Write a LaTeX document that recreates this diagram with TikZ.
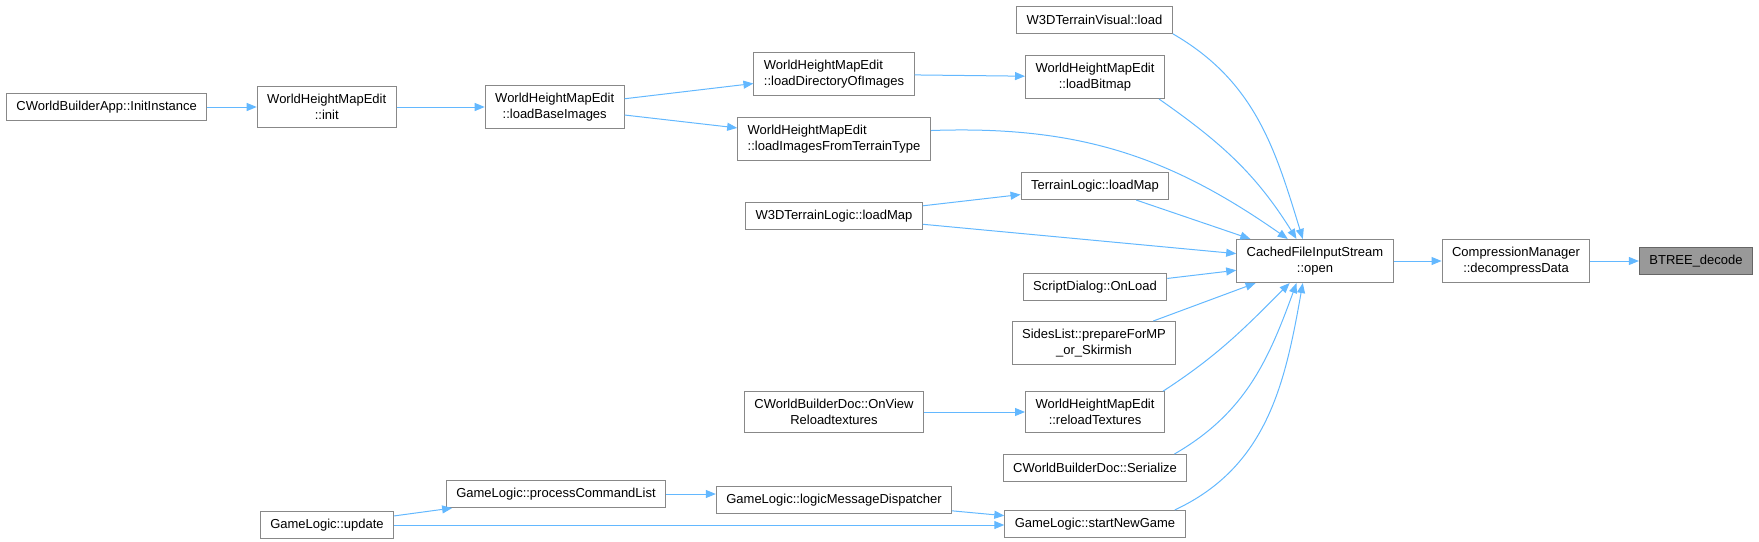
\documentclass[tikz,border=0pt]{standalone}
\usepackage{fontspec}
\setmainfont{Liberation Sans}
\usetikzlibrary{arrows.meta}
\definecolor{callblue}{HTML}{63B8FF}
\definecolor{boxgray}{HTML}{888888}
\definecolor{focusgray}{HTML}{999999}
\definecolor{focusedge}{HTML}{666666}

\begin{document}
\begin{tikzpicture}[x=1pt, y=1pt, >={Triangle[length=10pt,width=8pt]},
        fn/.style={draw=boxgray, line width=1pt, rectangle, fill=white, inner xsep=10pt, inner ysep=7.5pt, minimum height=27pt, font=\fontsize{13}{16}\selectfont, align=center},
        call/.style={->, draw=callblue, line width=1pt}]
        \useasboundingbox (0,0) rectangle (1759,-541);

        \node[fn] (loadbase) at (554.7,-107) {WorldHeightMapEdit\\::loadBaseImages};
        \node[fn, left of=loadbase, node distance=228pt] (init) {WorldHeightMapEdit\\::init};
        \node[fn, left of=init, node distance=220pt] (initinstance) {CWorldBuilderApp::InitInstance};

        \node[fn] (visualload) at (1094.5,-20) {W3DTerrainVisual::load};
        \node[fn, align=left] (loaddir) at (834,-74) {WorldHeightMapEdit\\::loadDirectoryOfImages};
        \node[fn] (loadbitmap) at (1095,-77) {WorldHeightMapEdit\\::loadBitmap};
        \node[fn, align=left] (loadimages) at (834,-139) {WorldHeightMapEdit\\::loadImagesFromTerrainType};
        \node[fn] (terrainmap) at (1095,-186) {TerrainLogic::loadMap};
        \node[fn] (w3dmap) at (834,-216) {W3DTerrainLogic::loadMap};

        \node[fn] (open) at (1315,-261) {CachedFileInputStream\\::open};
        \node[fn, right of=open, node distance=201pt] (decompress) {CompressionManager\\::decompressData};
        \node[fn, fill=focusgray, draw=focusedge, right of=decompress, node distance=180pt] (btree) {BTREE\_decode};

        \node[fn] (scriptload) at (1095,-287) {ScriptDialog::OnLoad};
        \node[fn] (sideslist) at (1094,-343) {SidesList::prepareForMP\\\_or\_Skirmish};
        \node[fn] (reloadtex) at (1095,-412) {WorldHeightMapEdit\\::reloadTextures};
        \node[fn, left of=reloadtex, node distance=261pt] (onview) {CWorldBuilderDoc::OnView\\Reloadtextures};
        \node[fn] (serialize) at (1095,-468) {CWorldBuilderDoc::Serialize};
        \node[fn] (startgame) at (1095,-524) {GameLogic::startNewGame};
        \node[fn] (dispatcher) at (834,-500) {GameLogic::logicMessageDispatcher};
        \node[fn] (processcmd) at (556,-494) {GameLogic::processCommandList};
        \node[fn] (update) at (327,-525) {GameLogic::update};

        \draw[call] (initinstance) -- (init);
        \draw[call] (init) -- (loadbase);
        \draw[call] (loadbase) -- (loaddir);
        \draw[call] (loadbase) -- (loadimages);
        \draw[call] (loaddir) -- (loadbitmap);
        \draw[call] (visualload.-10) to[out=-30, in=107] (open.119);
        \draw[call] (loadbitmap.-19) to[out=-35, in=122] (open.130);
        \draw[call] (loadimages.5) to[out=2, in=145] (open.141);
        \draw[call] (terrainmap) -- (open);
        \draw[call] (w3dmap) -- (terrainmap);
        \draw[call] (w3dmap) -- (open);
        \draw[call] (scriptload) -- (open);
        \draw[call] (sideslist) -- (open);
        \draw[call] (onview) -- (reloadtex);
        \draw[call] (reloadtex.17) to[out=33, in=-135] (open.-139);
        \draw[call] (serialize.10) to[out=30, in=-110] (open.-130);
        \draw[call] (startgame.10) to[out=25, in=-100] (open.-119);
        \draw[call] (update) -- (processcmd);
        \draw[call] (update) -- (update -| startgame.west);
        \draw[call] (processcmd) -- (processcmd -| dispatcher.west);
        \draw[call] (dispatcher) -- (startgame);
        \draw[call] (open) -- (decompress);
        \draw[call] (decompress) -- (btree);
    \end{tikzpicture}
\end{document}
